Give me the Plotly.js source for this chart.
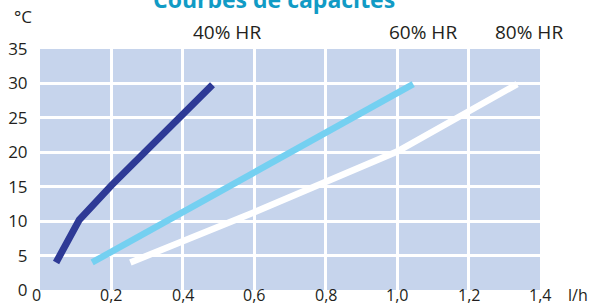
<!DOCTYPE html>
<html>
<head>
<meta charset="utf-8">
<script src="https://cdn.plot.ly/plotly-3.0.1.min.js"></script>
<style>html,body{margin:0;padding:0;background:#fff;}#chart{width:589px;height:306px;}</style>
</head>
<body>
<div id="chart"></div>
<script>
// Data
const hr40_x = [0.045, 0.11, 0.2, 0.32, 0.483];
const hr40_y = [4, 10.2, 15.2, 21.5, 29.8];
const hr60_x = [0.146, 0.4, 0.7, 1.045];
const hr60_y = [4, 11.3, 19.9, 29.9];
const hr80_x = [0.253, 0.6, 1.0, 1.336];
const hr80_y = [4, 11.3, 20.1, 29.9];
const seriesNames = ['40% HR', '60% HR', '80% HR'];
const xTickVals = [0, 0.2, 0.4, 0.6, 0.8, 1.0, 1.2, 1.4];
const xTickText = ['0', '0,2', '0,4', '0,6', '0,8', '1,0', '1,2', '1,4'];
const yTickVals = [0, 5, 10, 15, 20, 25, 30, 35];
const yTickText = ['0', '5', '10', '15', '20', '25', '30', '35'];
const labelX = [0.524, 1.073, 1.369];

const font = 'Open Sans, sans-serif';
const txt = '#231f20';

const traces = [
  {x: hr40_x, y: hr40_y, name: seriesNames[0], mode: 'lines', line: {color: '#2e3a96', width: 7}},
  {x: hr60_x, y: hr60_y, name: seriesNames[1], mode: 'lines', line: {color: '#74d0f1', width: 6.5}},
  {x: hr80_x, y: hr80_y, name: seriesNames[2], mode: 'lines', line: {color: '#ffffff', width: 6.5}}
];

const annotations = seriesNames.map((n, i) => ({
  text: n, x: labelX[i], xref: 'x', y: 1.0705, yref: 'paper',
  xanchor: 'center', yanchor: 'middle', showarrow: false,
  font: {family: font, size: 19, color: txt}
}));
// x tick labels placed with the x scale
xTickVals.forEach((v, i) => annotations.push({
  text: xTickText[i], x: v, xref: 'x', y: -0.0207, yref: 'paper',
  xanchor: 'center', yanchor: 'middle', showarrow: false, borderpad: 0,
  xshift: i === 0 ? -4 : 0,
  font: {family: font, size: 16, color: txt}
}));
annotations.push({text: '°C', x: -0.035, xref: 'paper', y: 1.133, yref: 'paper',
  xanchor: 'center', yanchor: 'middle', showarrow: false, font: {family: font, size: 17, color: txt}});
annotations.push({text: 'l/h', x: 1.076, xref: 'paper', y: -0.0207, yref: 'paper',
  xanchor: 'center', yanchor: 'middle', showarrow: false, borderpad: 0,
  font: {family: font, size: 16, color: txt}});
annotations.push({text: '<b>Courbes de capacités</b>', x: 0.4685, xref: 'paper', y: 1.207, yref: 'paper',
  xanchor: 'center', yanchor: 'middle', showarrow: false, font: {family: font, size: 23, color: '#119bc5'}});

const layout = {
  width: 589, height: 306,
  margin: {l: 39.5, r: 49, t: 49, b: 16, pad: 0},
  paper_bgcolor: '#ffffff',
  plot_bgcolor: '#c6d4ec',
  showlegend: false,
  font: {family: font, size: 17, color: txt},
  xaxis: {
    range: [0, 1.4], tickvals: xTickVals, showticklabels: false,
    showgrid: true, gridcolor: '#ffffff', gridwidth: 3, zeroline: false, showline: false,
    ticks: '', fixedrange: true
  },
  yaxis: {
    range: [0, 35], tickvals: yTickVals, ticktext: yTickText,
    showgrid: true, gridcolor: '#ffffff', gridwidth: 3, zeroline: false, showline: false,
    ticks: 'outside', ticklen: 8, tickcolor: 'rgba(0,0,0,0)', fixedrange: true,
    tickfont: {family: font, size: 17, color: txt}
  },
  annotations: annotations
};

Plotly.newPlot('chart', traces, layout, {displayModeBar: false, staticPlot: true});
</script>
</body>
</html>
